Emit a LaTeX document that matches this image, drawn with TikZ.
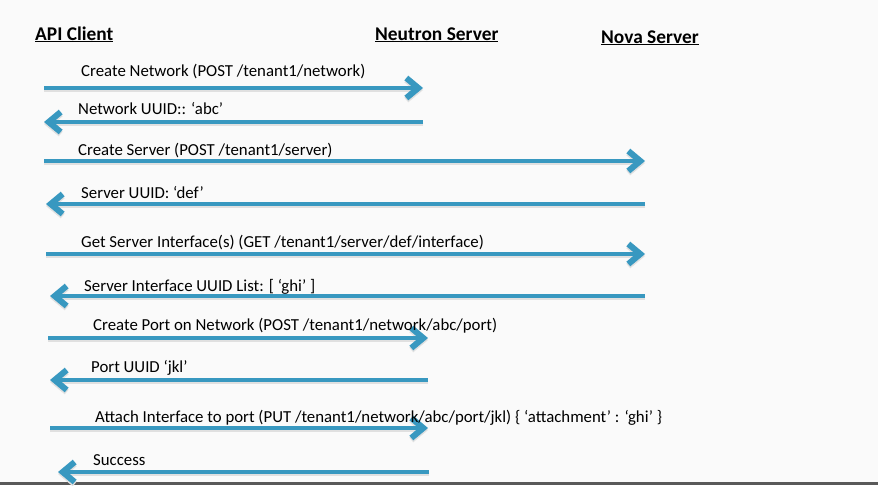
\documentclass[tikz,border=0pt]{standalone}
\usepackage{fontspec}
\setmainfont{Carlito}
\usetikzlibrary{arrows.meta}
\definecolor{arrowblue}{RGB}{56,152,192}
\definecolor{bgcol}{RGB}{250,250,250}
\begin{document}
\begin{tikzpicture}[x=1pt,y=-1pt,
  msg/.style={line width=4.5pt, draw=arrowblue, -{Straight Barb[length=12pt,width=20pt,line width=1.5pt 1]}},
  msgshadow/.style={line width=4.5pt, draw=black!12, -{Straight Barb[length=12pt,width=20pt,line width=1.5pt 1]}},
  lbl/.style={anchor=base west, inner sep=0pt, font=\fontsize{16.8}{19}\selectfont},
  hdr/.style={anchor=base west, inner sep=0pt, font=\fontsize{19.4}{22}\selectfont\bfseries}]
\fill[bgcol] (0,0) rectangle (878,485);
\useasboundingbox (0,0) rectangle (878,485);
\fill[black!65] (0,482) rectangle (878,485);

% headers
\node[hdr] (client) at (35,40) {\underline{API Client}};
\node[hdr] (neutron) at (375,40) {\underline{Neutron Server}};
\node[hdr] (nova) at (601,43) {\underline{Nova Server}};

% endpoints
\coordinate (a1s) at (44,88);   \coordinate (a1e) at (423,88);
\coordinate (a2s) at (423,122); \coordinate (a2e) at (44,122);
\coordinate (a3s) at (44,161);  \coordinate (a3e) at (645,161);
\coordinate (a4s) at (645,204); \coordinate (a4e) at (46,204);
\coordinate (a5s) at (46,254);  \coordinate (a5e) at (645,254);
\coordinate (a6s) at (645,296); \coordinate (a6e) at (50,296);
\coordinate (a7s) at (48,338);  \coordinate (a7e) at (428,338);
\coordinate (a8s) at (428,380); \coordinate (a8e) at (50,380);
\coordinate (a9s) at (50,428);  \coordinate (a9e) at (428,428);
\coordinate (a10s) at (429,472); \coordinate (a10e) at (58,472);

\foreach \i in {1,...,10}{
  \draw[msgshadow, transform canvas={yshift=-2pt}] (a\i s) -- (a\i e);
  \draw[msg] (a\i s) -- (a\i e);
}

% labels
\node[lbl] (l1) at (81,76) {Create Network (POST /tenant1/network)};
\node[lbl] (l2) at (78,114) {Network UUID:: ‘abc’};
\node[lbl] (l3) at (78,155) {Create Server (POST /tenant1/server)};
\node[lbl] (l4) at (81,198) {Server UUID: ‘def’};
\node[lbl] (l5) at (81,247) {Get Server Interface(s) (GET /tenant1/server/def/interface)};
\node[lbl] (l6) at (84,291) {Server Interface UUID List: [ ‘ghi’ ]};
\node[lbl] (l7) at (93,330) {Create Port on Network (POST /tenant1/network/abc/port)};
\node[lbl] (l8) at (91,372) {Port UUID ‘jkl’};
\node[lbl] (l9) at (95,422) {Attach Interface to port (PUT /tenant1/network/abc/port/jkl) \{ ‘attachment’ : ‘ghi’ \}};
\node[lbl] (l10) at (93,465) {Success};
\end{tikzpicture}
\end{document}
